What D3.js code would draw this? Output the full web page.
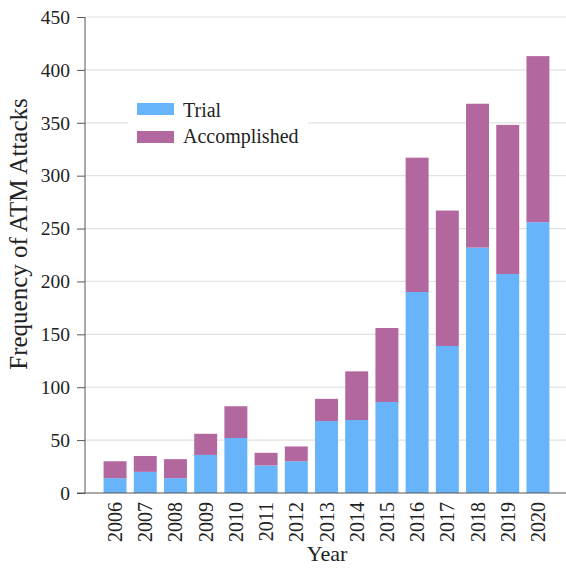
<!DOCTYPE html>
<html><head><meta charset="utf-8">
<script src="https://cdn.jsdelivr.net/npm/d3@7"></script>
<style>body{margin:0;background:#fff}svg{display:block}</style>
</head><body>
<script>
const years = ["2006","2007","2008","2009","2010","2011","2012","2013","2014","2015","2016","2017","2018","2019","2020"];
const trial = [14,20,14,36,52,26,30,68,69,86,190,139,232,207,256];
const accomplished = [16,15,18,20,30,12,14,21,46,70,127,128,136,141,157];
const yTicks = [0,50,100,150,200,250,300,350,400,450];
const seriesNames = ["Trial","Accomplished"];
const colors = ["#67b4fb","#b3679f"];

const W = 566, H = 568;
const m = {left:85, right:-2, top:17, bottom:75};
const svg = d3.select("body").append("svg").attr("width",W).attr("height",H);
const font = "'Liberation Serif','Times New Roman',serif";

const x = d3.scaleBand().domain(years).range([m.left, W - m.right]).paddingInner(0.24).paddingOuter(0.615);
const y = d3.scaleLinear().domain([0,450]).range([H - m.bottom, m.top]);

const data = years.map((yr,i)=>({year:yr, Trial:trial[i], Accomplished:accomplished[i]}));
const stacked = d3.stack().keys(seriesNames)(data);

// gridlines
svg.append("g").selectAll("line").data(yTicks.filter(d=>d>0)).join("line")
  .attr("x1", m.left).attr("x2", 566).attr("y1", d=>y(d)).attr("y2", d=>y(d))
  .attr("stroke","#e2e2e2").attr("stroke-width",1.2);

// bars
svg.append("g").selectAll("g").data(stacked).join("g").attr("fill",(d,i)=>colors[i])
  .selectAll("rect").data(d=>d).join("rect")
  .attr("x", d=>x(d.data.year)).attr("width", x.bandwidth())
  .attr("y", d=>y(d[1])).attr("height", d=>y(d[0]) - y(d[1]));

// y axis
const ya = svg.append("g").attr("transform",`translate(${m.left},0)`)
  .call(d3.axisLeft(y).tickValues(yTicks).tickSize(8).tickPadding(7));
ya.select(".domain").attr("stroke","#555").attr("d", `M0,${y(450)}V${y(0)}`);
ya.selectAll(".tick line").attr("stroke","#555");
ya.selectAll("text").attr("font-family",font).attr("font-size",19.5).attr("fill","#222");

// x axis baseline
svg.append("line").attr("x1", m.left-8).attr("x2", 566).attr("y1", y(0)).attr("y2", y(0))
  .attr("stroke","#555").attr("stroke-width",1.2);

// x labels
svg.append("g").selectAll("text").data(years).join("text")
  .attr("transform", d=>`translate(${x(d)+x.bandwidth()/2+7},${y(0)+9}) rotate(-90)`)
  .attr("text-anchor","end").attr("font-family",font).attr("font-size",20).attr("fill","#222")
  .text(d=>d);

// axis titles
svg.append("text").attr("x", 327).attr("y", 561).attr("text-anchor","middle")
  .attr("font-family",font).attr("font-size",22).attr("fill","#222").text("Year");
svg.append("text").attr("transform",`translate(27,234) rotate(-90)`)
  .attr("text-anchor","middle").attr("font-family",font).attr("font-size",25).attr("fill","#222")
  .text("Frequency of ATM Attacks");

// legend
const lg = svg.append("g");
lg.append("rect").attr("x",128).attr("y",92).attr("width",180).attr("height",62).attr("fill","#fff");
seriesNames.forEach((s,i)=>{
  lg.append("rect").attr("x",137).attr("y",103 + i*28).attr("width",37).attr("height",12).attr("fill",colors[i]);
  lg.append("text").attr("x",183).attr("y",117 + i*26).attr("font-family",font).attr("font-size",20)
    .attr("fill","#222").text(s);
});
</script>
</body></html>
